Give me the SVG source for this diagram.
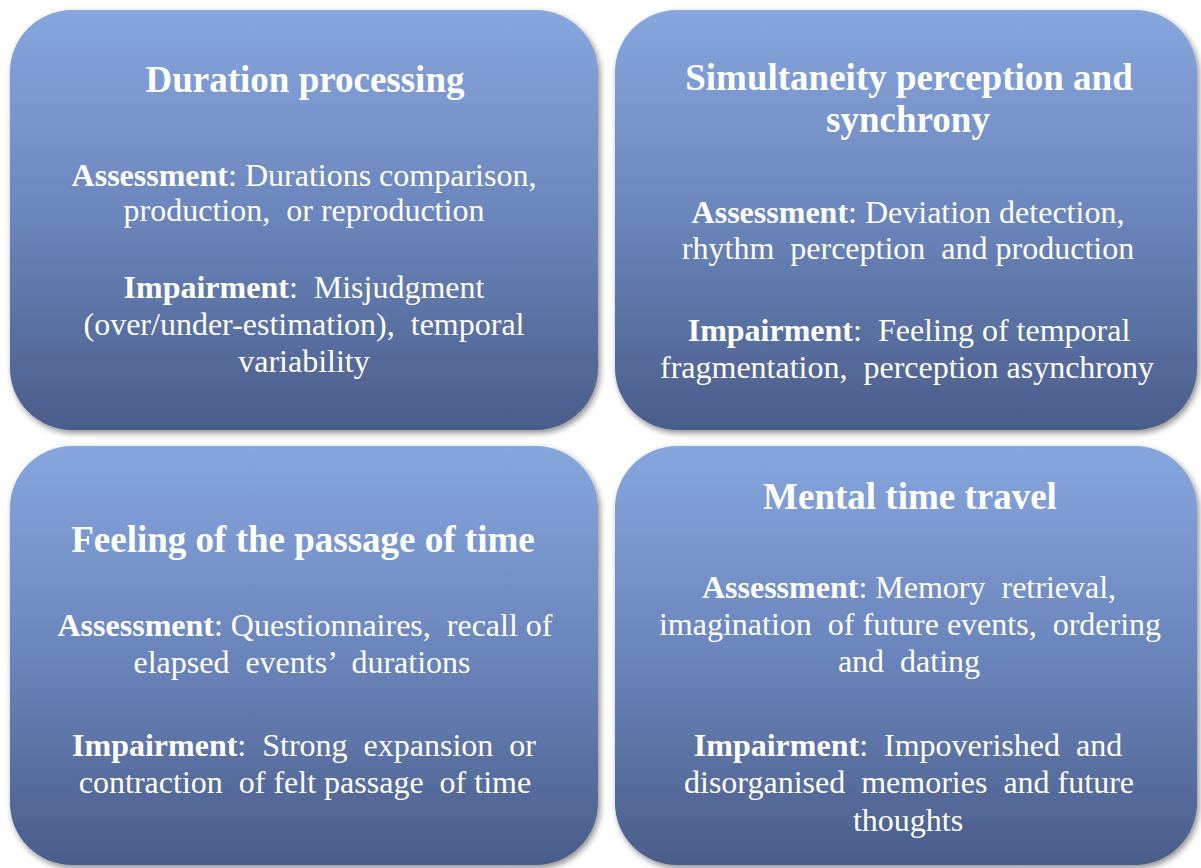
<svg xmlns="http://www.w3.org/2000/svg" width="1201" height="868" viewBox="0 0 1201 868">
  <defs>
    <linearGradient id="boxGrad" x1="0" y1="0" x2="0" y2="1">
      <stop offset="0" stop-color="#87a6de"/>
      <stop offset="0.5" stop-color="#6a85bb"/>
      <stop offset="1" stop-color="#4a5d8a"/>
    </linearGradient>
    <filter id="shadow" x="-5%" y="-5%" width="112%" height="112%">
      <feDropShadow dx="2" dy="3" stdDeviation="3" flood-color="#000" flood-opacity="0.45"/>
    </filter>
    <style>
      .box { fill: url(#boxGrad); filter: url(#shadow); }
      text { font-family: "Liberation Serif", "Times New Roman", serif; fill: #ffffff; text-anchor: middle; white-space: pre; }
      .h { font-size: 37px; font-weight: bold; }
      .t { font-size: 32px; }
      .b { font-weight: bold; }
    </style>
  </defs>
  <rect width="1201" height="868" fill="#ffffff"/>

  <g id="connectors"></g>

  <g id="node-duration">
    <rect class="box" x="10" y="10" width="588" height="420" rx="62" ry="62"/>
    <text class="h" x="305" y="92">Duration processing</text>
    <text class="t" x="304" y="186" xml:space="preserve"><tspan class="b">Assessment</tspan>: Durations comparison,</text>
    <text class="t" x="304" y="221" xml:space="preserve">production,  or reproduction</text>
    <text class="t" x="304" y="298" xml:space="preserve"><tspan class="b">Impairment</tspan>:  Misjudgment</text>
    <text class="t" x="304" y="335" xml:space="preserve">(over/under-estimation),  temporal</text>
    <text class="t" x="304" y="372">variability</text>
  </g>

  <g id="node-simultaneity">
    <rect class="box" x="615" y="10" width="582" height="420" rx="62" ry="62"/>
    <text class="h" x="909" y="90">Simultaneity perception and</text>
    <text class="h" x="908" y="132">synchrony</text>
    <text class="t" x="908" y="223" xml:space="preserve"><tspan class="b">Assessment</tspan>: Deviation detection,</text>
    <text class="t" x="908" y="259" xml:space="preserve">rhythm  perception  and production</text>
    <text class="t" x="909" y="341" xml:space="preserve"><tspan class="b">Impairment</tspan>:  Feeling of temporal</text>
    <text class="t" x="907" y="378" xml:space="preserve">fragmentation,  perception asynchrony</text>
  </g>

  <g id="node-passage">
    <rect class="box" x="10" y="446" width="588" height="419" rx="62" ry="62"/>
    <text class="h" x="303" y="552">Feeling of the passage of time</text>
    <text class="t" x="305" y="636" xml:space="preserve"><tspan class="b">Assessment</tspan>: Questionnaires,  recall of</text>
    <text class="t" x="302" y="673" xml:space="preserve">elapsed  events’  durations</text>
    <text class="t" x="304" y="756" xml:space="preserve"><tspan class="b">Impairment</tspan>:  Strong  expansion  or</text>
    <text class="t" x="305" y="793" xml:space="preserve">contraction  of felt passage  of time</text>
  </g>

  <g id="node-mental">
    <rect class="box" x="615" y="446" width="582" height="419" rx="62" ry="62"/>
    <text class="h" x="910" y="509">Mental time travel</text>
    <text class="t" x="909" y="598" xml:space="preserve"><tspan class="b">Assessment</tspan>: Memory  retrieval,</text>
    <text class="t" x="910" y="635" xml:space="preserve">imagination  of future events,  ordering</text>
    <text class="t" x="909" y="672" xml:space="preserve">and  dating</text>
    <text class="t" x="908" y="756" xml:space="preserve"><tspan class="b">Impairment</tspan>:  Impoverished  and</text>
    <text class="t" x="909" y="793" xml:space="preserve">disorganised  memories  and future</text>
    <text class="t" x="908" y="831">thoughts</text>
  </g>
</svg>
